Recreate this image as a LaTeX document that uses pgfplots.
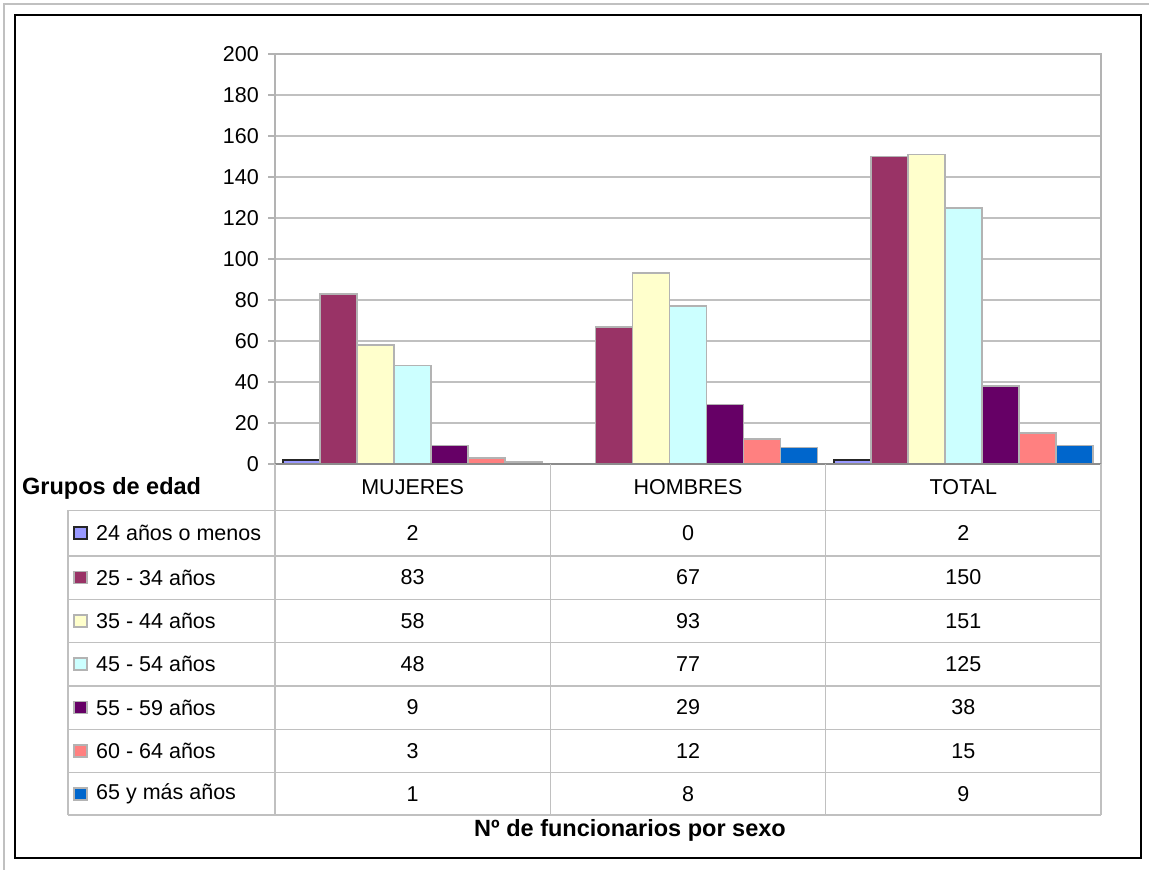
\documentclass[border=0pt]{standalone}
\usepackage{pgfplots}
\pgfplotsset{compat=1.18}
\usepackage{pgfplotstable}
\usepackage{fontspec}
\setmainfont{Liberation Sans}
\definecolor{c1}{HTML}{9999FF}
\definecolor{c2}{HTML}{993366}
\definecolor{c3}{HTML}{FFFFCC}
\definecolor{c4}{HTML}{CCFFFF}
\definecolor{c5}{HTML}{660066}
\definecolor{c6}{HTML}{FF8080}
\definecolor{c7}{HTML}{0066CC}
\definecolor{gridc}{HTML}{C0C0C0}
\definecolor{barb}{HTML}{B3B3B3}
\pgfplotstableread{
x a1 a2 a3 a4 a5 a6 a7
0 2 83 58 48 9 3 1
1 0 67 93 77 29 12 8
2 2 150 151 125 38 15 9
}\datatable
\newcommand{\fs}{\fontsize{21.5}{24}\selectfont}
\newcommand{\fb}{\fontsize{23.5}{26}\selectfont\bfseries}
\begin{document}
\begin{tikzpicture}[x=1pt,y=1pt]
\useasboundingbox (0,0) rectangle (1149,870);
% outer frames
\draw[gridc, line width=1.5pt] (4,0) -- (4,866) -- (1149,866);
\draw[black, line width=2pt] (15,12) rectangle (1141,855);
\begin{axis}[
  at={(275pt,406pt)}, anchor=south west,
  scale only axis, width=826pt, height=410pt,
  xmin=-0.5, xmax=2.5, ymin=0, ymax=200,
  ytick={0,20,...,200}, xtick=\empty, ytick pos=left,
  ymajorgrids, grid style={gridc, line width=1.2pt},
  axis line style={barb, line width=1.5pt},
  tick align=outside, major tick length=7pt,
  ytick style={barb, line width=1.2pt},
  yticklabel style={font=\fs, inner sep=0pt, xshift=-9pt},
  /pgf/number format/assume math mode=true,
  ybar=0pt, bar width=37pt,
  clip=false,
]
\addplot[fill=c1, draw=black!85, line width=1.8pt] table[x=x,y=a1] {\datatable};
\addplot[fill=c2, draw=barb, line width=1.8pt] table[x=x,y=a2] {\datatable};
\addplot[fill=c3, draw=barb, line width=1.8pt] table[x=x,y=a3] {\datatable};
\addplot[fill=c4, draw=barb, line width=1.8pt] table[x=x,y=a4] {\datatable};
\addplot[fill=c5, draw=barb, line width=1.8pt] table[x=x,y=a5] {\datatable};
\addplot[fill=c6, draw=barb, line width=1.8pt] table[x=x,y=a6] {\datatable};
\addplot[fill=c7, draw=barb, line width=1.8pt] table[x=x,y=a7] {\datatable};
\draw[black!45, line width=2pt] (axis cs:-0.5,0) -- (axis cs:2.5,0);
\end{axis}
% data table grid
\foreach \xx in {275,550.3,825.7,1101} {\draw[gridc, line width=1.2pt] (\xx,406) -- (\xx,55);}
\foreach \yy in {510.5,556,599.3,642.6,686,729.3,772.6,815} {\draw[gridc, line width=1.2pt] (68,870-\yy) -- (1101,870-\yy);}
\draw[gridc, line width=1.2pt] (68,870-510.5) -- (68,55);
% header
\node[font=\fs] at (412.7,870-487) {MUJERES};
\node[font=\fs] at (688,870-487) {HOMBRES};
\node[font=\fs] at (963.3,870-487) {TOTAL};
\node[font=\fb, anchor=west, inner sep=0pt] at (22,870-488) {Grupos de edad};
% rows
\def\rowc{{533.2,577.6,621,664.3,707.6,751,793.8}}
\def\labs{{"24 años o menos","25 - 34 años","35 - 44 años","45 - 54 años","55 - 59 años","60 - 64 años","65 y más años"}}
\foreach \i/\col/\bord in {1/c1/black!85,2/c2/barb,3/c3/barb,4/c4/barb,5/c5/barb,6/c6/barb,7/c7/barb} {
  \pgfmathsetmacro{\ry}{870-\rowc[\i-1]}
  \pgfmathsetmacro{\lab}{\labs[\i-1]}
  \filldraw[fill=\col, draw=\bord, line width=1.6pt] (74,\ry-6) rectangle (87,\ry+6);
  \node[font=\fs, anchor=west, inner sep=0pt] at (96,\ry) {\lab};
  \foreach \j in {0,1,2} {
    \pgfplotstablegetelem{\j}{a\i}\of\datatable
    \pgfmathsetmacro{\cx}{412.7+275.3*\j}
    \node[font=\fs] at (\cx,\ry) {\pgfplotsretval};
  }
}
\node[font=\fb] at (630,870-830) {Nº de funcionarios por sexo};
\end{tikzpicture}
\end{document}
